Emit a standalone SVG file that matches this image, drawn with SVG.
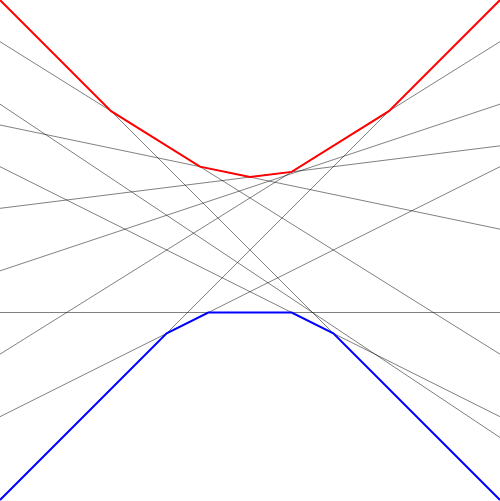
<svg xmlns="http://www.w3.org/2000/svg" width="500" height="501" viewBox="0 0 500 501">
<style>
.ln{stroke:#000;stroke-width:0.5;fill:none}
.up{stroke:#ff0000;stroke-width:2;fill:none}
.lo{stroke:#0000ff;stroke-width:2;fill:none}
</style>
<rect width="500" height="501" fill="#fff"/>
<g id="lines">
<line class="ln" x1="0" y1="0" x2="500" y2="500"/>
<line class="ln" x1="0" y1="500" x2="500" y2="0"/>
<line class="ln" x1="0" y1="41.667" x2="500" y2="354.167"/>
<line class="ln" x1="0" y1="125" x2="500" y2="229.167"/>
<line class="ln" x1="0" y1="208.333" x2="500" y2="145.833"/>
<line class="ln" x1="0" y1="354.167" x2="500" y2="41.667"/>
<line class="ln" x1="0" y1="416.667" x2="500" y2="166.667"/>
<line class="ln" x1="0" y1="312.5" x2="500" y2="312.5"/>
<line class="ln" x1="0" y1="166.667" x2="500" y2="416.667"/>
<line class="ln" x1="0" y1="104.167" x2="500" y2="437.5"/>
<line class="ln" x1="0" y1="270.833" x2="500" y2="104.167"/>
</g>
<g id="envelopes">
<polyline id="upper" class="up" points="0,0 111.111,111.111 200,166.667 250,177.083 291.667,171.875 388.889,111.111 500,0"/>
<polyline id="lower" class="lo" points="0,500 166.667,333.333 208.333,312.5 291.667,312.5 333.333,333.333 500,500"/>
</g>
</svg>
